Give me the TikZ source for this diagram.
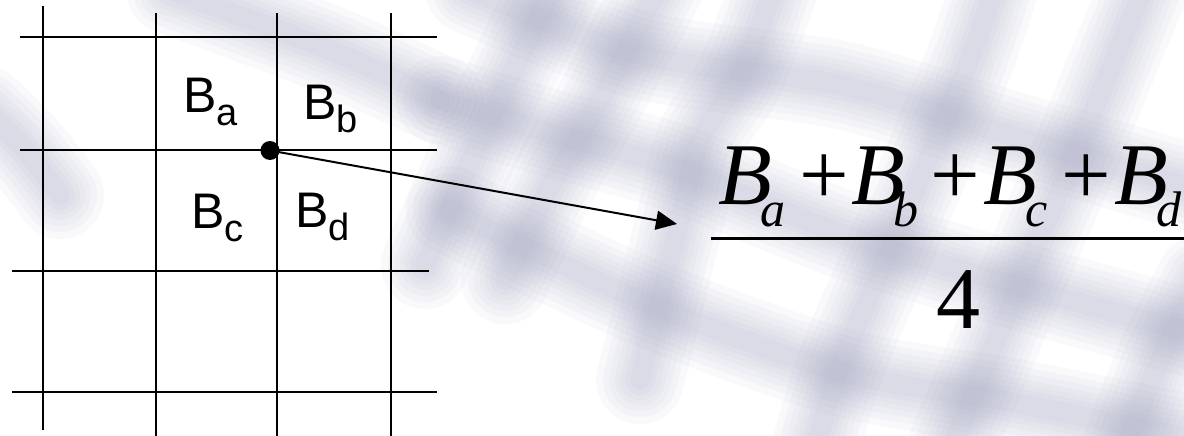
\documentclass[tikz,border=0pt]{standalone}
\usepackage{fontspec}
\setmainfont{Liberation Serif}
\newfontfamily\arialf{Liberation Sans}
\usetikzlibrary{arrows.meta}
\definecolor{bandc}{RGB}{150,153,185}
\tikzset{
  gridline/.style={line width=2pt, black},
  cell/.style={anchor=base west, inner sep=0pt, font=\arialf\fontsize{50}{60}\selectfont},
  term/.style={anchor=base west, inner sep=0pt, font=\itshape\fontsize{88}{100}\selectfont},
  bandlayer/.style={bandc, line width=#1, opacity=0.055, line cap=round, line join=round},
}
\newcommand\cellsub[2]{#1\raisebox{-13pt}{\fontsize{38}{40}\selectfont #2}}
\newcommand\termsub[2]{#1\kern-11pt\raisebox{-22pt}{\fontsize{50}{50}\selectfont #2}}
\newcommand\softband[1]{%
  \foreach \w in {88,74,62,50,40,30,20}{%
    \draw[bandlayer=\w pt] plot[smooth] coordinates {#1};}}
\begin{document}
\begin{tikzpicture}[x=1pt,y=-1pt]
\useasboundingbox (0,0) rectangle (1184,436);
\fill[white] (0,0) rectangle (1184,436);
% soft background pattern (blurred perspective grid)
\begin{scope}
  \clip (0,0) rectangle (1184,436);
  % bands running up to the right (steep)
  \softband{(425,265) (480,140) (555,-15)}
  \softband{(505,280) (550,187) (600,100) (660,-15)}
  \softband{(640,380) (680,220) (700,140) (740,77) (775,-15)}
  \softband{(815,450) (840,367) (897,233) (967,67) (995,-15)}
  \softband{(950,450) (1027,267) (1073,160) (1145,-15)}
  \softband{(1125,450) (1160,360) (1200,280)}
  % bands running down to the right (shallow)
  \softband{(470,-10) (640,55) (840,85) (1010,135) (1200,190)}
  \softband{(440,100) (550,133) (673,167) (840,233) (1007,283) (1200,335)}
  \softband{(450,210) (640,300) (840,372) (1010,402) (1200,440)}
  \begin{scope}[opacity=0.55]
    \softband{(170,-10) (330,50) (440,100)}
    \softband{(-15,110) (25,150) (60,195)}
  \end{scope}
\end{scope}
% grid
\draw[gridline] (43,6) -- (43,430);
\draw[gridline] (156,13) -- (156,436);
\draw[gridline] (277,13) -- (277,436);
\draw[gridline] (391,13) -- (391,436);
\draw[gridline] (20,37) -- (437,37);
\draw[gridline] (20,150) -- (437,150);
\draw[gridline] (12,271) -- (429,271);
\draw[gridline] (12,392) -- (437,392);
% cell labels
\node[cell] (ba) at (183.3,113) {\cellsub{B}{a}};
\node[cell] (bb) at (303.3,120) {\cellsub{B}{b}};
\node[cell] (bc) at (191.3,228) {\cellsub{B}{c}};
\node[cell] (bd) at (295.3,227) {\cellsub{B}{d}};
% vertex and arrow
\node[circle, fill=black, minimum size=19pt, inner sep=0pt] (dot) at (270,150.5) {};
\coordinate (tip) at (677,224);
\draw[line width=2pt, -{Triangle[length=21pt,width=19pt]}] (dot.center) -- (tip);
% formula
\node[term] (num) at (718,204) {%
  \makebox[81.5pt][l]{\termsub{B}{a}}%
  \makebox[51.5pt][l]{\upshape +}%
  \makebox[79.5pt][l]{\termsub{B}{b}}%
  \makebox[52.5pt][l]{\upshape +}%
  \makebox[78.5pt][l]{\termsub{B}{c}}%
  \makebox[52.5pt][l]{\upshape +}%
  \termsub{B}{d}};
\coordinate (barl) at (711,238);
\coordinate (barr) at (1184,238);
\draw[line width=3pt] (barl) -- (barr);
\node[term] (four) at (936,328) {\upshape 4};
\end{tikzpicture}
\end{document}
